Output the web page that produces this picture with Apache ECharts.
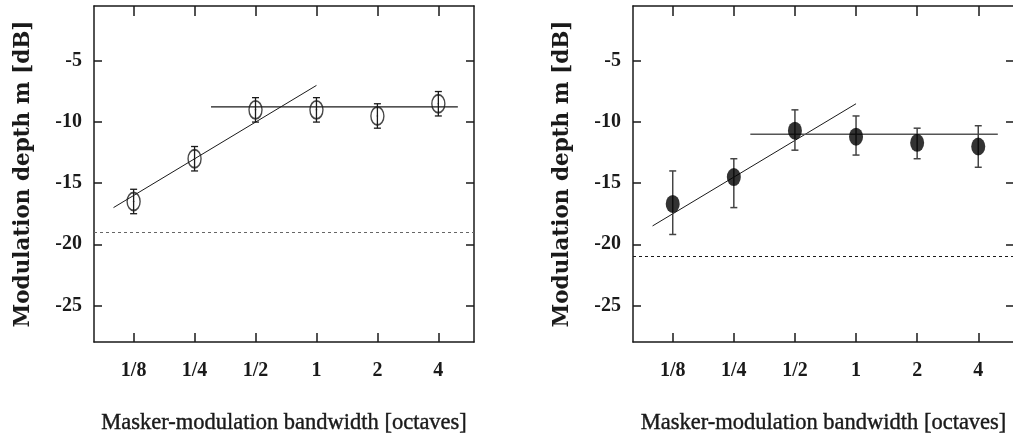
<!DOCTYPE html>
<html>
<head>
<meta charset="utf-8">
<title>Modulation depth vs masker-modulation bandwidth</title>
<script src="https://cdn.jsdelivr.net/npm/echarts@6/dist/echarts.min.js"></script>
<style>
  html, body { margin: 0; padding: 0; background: #fff; }
  #chart { width: 1013px; height: 437px; }
</style>
</head>
<body>
<div id="chart"></div>
<script>
// Bandwidth positions on a log2 (octave) scale and their tick labels
const bandwidthLog2 = [-3, -2, -1, 0, 1, 2];
const bandwidthLabels = ['1/8', '1/4', '1/2', '1', '2', '4'];
const depthTicks = [-25, -20, -15, -10, -5];

// Left panel: open symbols (mean, lower and upper error limits, dB)
const leftMean = [-16.5, -13.0, -9.0, -9.0, -9.5, -8.5];
const leftLow = [-17.5, -14.0, -10.0, -10.0, -10.5, -9.5];
const leftHigh = [-15.5, -12.0, -8.0, -8.0, -8.5, -7.5];
const leftSlope = [[-3.33, -17.0], [0, -7.0]];
const leftPlateau = [[-1.73, -8.75], [2.32, -8.75]];
const leftFloor = -19;

// Right panel: filled symbols
const rightMean = [-16.7, -14.5, -10.7, -11.2, -11.7, -12.0];
const rightLow = [-19.2, -17.0, -12.3, -12.7, -13.0, -13.7];
const rightHigh = [-14.0, -13.0, -9.0, -9.5, -10.5, -10.3];
const rightSlope = [[-3.33, -18.5], [0, -8.5]];
const rightPlateau = [[-1.73, -11.0], [2.32, -11.0]];
const rightFloor = -21;

const X_MIN = -3.65, X_MAX = 2.585;
const Y_MIN = -28, Y_MAX = -0.5;
const INK = '#1a1a1a';

const tickFont = { fontFamily: 'Liberation Serif', fontWeight: 'bold', fontSize: 20, color: INK };

function bottomAxis(gridIndex) {
  return {
    type: 'value', gridIndex, position: 'bottom', min: X_MIN, max: X_MAX,
    axisLine: { show: true, onZero: false, lineStyle: { color: INK, width: 1.5 } },
    axisTick: { show: true, inside: true, length: 9, customValues: bandwidthLog2, lineStyle: { color: INK, width: 1.5 } },
    axisLabel: {
      show: true, margin: 19, customValues: bandwidthLog2, ...tickFont,
      formatter: v => bandwidthLabels[bandwidthLog2.indexOf(Math.round(v))]
    },
    splitLine: { show: false },
    name: 'Masker-modulation bandwidth [octaves]',
    nameLocation: 'middle', nameGap: 70,
    nameTextStyle: {
      fontFamily: 'Liberation Serif', fontSize: 22.5, color: INK,
      textBorderColor: INK, textBorderWidth: 0.4
    }
  };
}
function topAxis(gridIndex) {
  return {
    type: 'value', gridIndex, position: 'top', min: X_MIN, max: X_MAX,
    axisLine: { show: true, onZero: false, lineStyle: { color: INK, width: 1.5 } },
    axisTick: { show: true, inside: true, length: 10, customValues: bandwidthLog2, lineStyle: { color: INK, width: 1.5 } },
    axisLabel: { show: false },
    splitLine: { show: false }
  };
}
function leftAxis(gridIndex) {
  return {
    type: 'value', gridIndex, position: 'left', min: Y_MIN, max: Y_MAX,
    axisLine: { show: true, onZero: false, lineStyle: { color: INK, width: 1.5 } },
    axisTick: { show: true, inside: true, length: 8, customValues: depthTicks, lineStyle: { color: INK, width: 1.5 } },
    axisLabel: { show: true, margin: 12, customValues: depthTicks, ...tickFont },
    splitLine: { show: false },
    name: 'Modulation depth m [dB]',
    nameLocation: 'middle', nameRotate: 90, nameGap: 60,
    nameTextStyle: { fontFamily: 'DejaVu Serif', fontWeight: 'bold', fontSize: 21.5, color: INK }
  };
}
function rightAxis(gridIndex) {
  return {
    type: 'value', gridIndex, position: 'right', min: Y_MIN, max: Y_MAX,
    axisLine: { show: true, onZero: false, lineStyle: { color: INK, width: 1.5 } },
    axisTick: { show: true, inside: true, length: 8, customValues: depthTicks, lineStyle: { color: INK, width: 1.5 } },
    axisLabel: { show: false },
    splitLine: { show: false }
  };
}

function pairs(xs, ys) { return xs.map((x, i) => [x, ys[i]]); }

// Vertical error bars with short caps, plus a small dot at the mean
function errorBarSeries(axisIdx, means, lows, highs, color, width, dot) {
  const data = bandwidthLog2.map((x, i) => [x, lows[i], highs[i], means[i]]);
  return {
    type: 'custom', xAxisIndex: axisIdx, yAxisIndex: axisIdx, z: 3, silent: true,
    data,
    renderItem(params, api) {
      const x = api.value(0);
      const lo = api.coord([x, api.value(1)]);
      const hi = api.coord([x, api.value(2)]);
      const mid = api.coord([x, api.value(3)]);
      const cap = 3.5;
      const style = { stroke: color, lineWidth: width, fill: null };
      const children = [
        { type: 'line', shape: { x1: lo[0], y1: lo[1], x2: hi[0], y2: hi[1] }, style },
        { type: 'line', shape: { x1: lo[0] - cap, y1: lo[1], x2: lo[0] + cap, y2: lo[1] }, style },
        { type: 'line', shape: { x1: hi[0] - cap, y1: hi[1], x2: hi[0] + cap, y2: hi[1] }, style }
      ];
      if (dot) {
        children.push({ type: 'circle', shape: { cx: mid[0], cy: mid[1], r: 0.8 }, style: { fill: color } });
      }
      return { type: 'group', children };
    }
  };
}

function fitLine(axisIdx, pts, color, width) {
  return {
    type: 'line', xAxisIndex: axisIdx, yAxisIndex: axisIdx, data: pts,
    symbol: 'none', silent: true, z: 2,
    lineStyle: { color, width }
  };
}

function floorLine(axisIdx, level, color) {
  return {
    type: 'line', xAxisIndex: axisIdx, yAxisIndex: axisIdx, data: [],
    silent: true,
    markLine: {
      silent: true, symbol: ['none', 'none'], label: { show: false },
      lineStyle: { type: [3, 3], color, width: 1.2 },
      data: [{ yAxis: level }]
    }
  };
}

const option = {
  backgroundColor: '#fff',
  animation: false,
  grid: [
    { left: 94, top: 6, width: 380, height: 336, containLabel: false, outerBoundsMode: 'none' },
    { left: 633, top: 6, width: 381, height: 336, containLabel: false, outerBoundsMode: 'none' }
  ],
  xAxis: [bottomAxis(0), topAxis(0), bottomAxis(1), topAxis(1)],
  yAxis: [leftAxis(0), rightAxis(0), leftAxis(1), rightAxis(1)],
  series: [
    // left panel
    floorLine(0, leftFloor, '#666'),
    fitLine(0, leftSlope, INK, 1),
    fitLine(0, leftPlateau, INK, 1.3),
    errorBarSeries(0, leftMean, leftLow, leftHigh, INK, 1.3, true),
    {
      type: 'scatter', xAxisIndex: 0, yAxisIndex: 0, z: 4, silent: true,
      data: pairs(bandwidthLog2, leftMean),
      symbol: 'circle', symbolSize: [13, 18],
      itemStyle: { color: 'rgba(0,0,0,0)', borderColor: INK, borderWidth: 1.6 }
    },
    // right panel
    floorLine(2, rightFloor, INK),
    fitLine(2, rightSlope, INK, 1),
    fitLine(2, rightPlateau, '#555', 1.6),
    errorBarSeries(2, rightMean, rightLow, rightHigh, '#444', 1.5, false),
    {
      type: 'scatter', xAxisIndex: 2, yAxisIndex: 2, z: 4, silent: true,
      data: pairs(bandwidthLog2, rightMean),
      symbol: 'circle', symbolSize: [14, 18],
      itemStyle: { color: '#000', borderWidth: 0 }
    }
  ]
};

const chart = echarts.init(document.getElementById('chart'), null, { renderer: 'canvas' });
chart.setOption(option);
</script>
</body>
</html>
